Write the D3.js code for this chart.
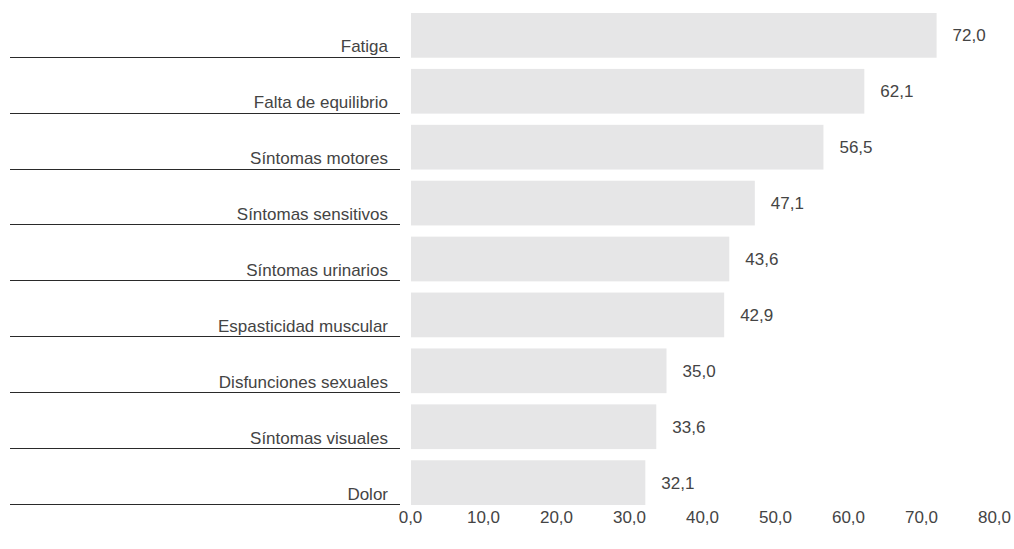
<!DOCTYPE html>
<html>
<head>
<meta charset="utf-8">
<script src="https://cdn.jsdelivr.net/npm/d3@7"></script>
<style>
  body { margin: 0; background: #fff; }
  svg text { font-family: "Liberation Sans", Arial, sans-serif; fill: #444; }
</style>
</head>
<body>
<svg class="canvas" width="1014" height="549"></svg>
<script>
var categories = ["Fatiga", "Falta de equilibrio", "Síntomas motores", "Síntomas sensitivos",
                  "Síntomas urinarios", "Espasticidad muscular", "Disfunciones sexuales",
                  "Síntomas visuales", "Dolor"];
var values = [72.0, 62.1, 56.5, 47.1, 43.6, 42.9, 35.0, 33.6, 32.1];
var ticks = [0, 10, 20, 30, 40, 50, 60, 70, 80];

var svg = d3.select('.canvas');
var fmt = function(v) { return v.toFixed(1).replace('.', ','); };

var x = d3.scaleLinear().domain([0, 80]).range([411, 995]);
var y = d3.scaleBand().domain(categories).range([7.4, 510.6]).paddingInner(0.2).paddingOuter(0.1);

var rows = svg.selectAll('.row')
    .data(categories)
    .enter()
    .append('g')
        .attr('class', 'row');

rows.append('rect')
    .attr('x', x(0))
    .attr('y', function(d) { return y(d); })
    .attr('width', function(d, i) { return x(values[i]) - x(0); })
    .attr('height', y.bandwidth())
    .style('fill', '#e6e6e7');

rows.append('line')
    .attr('x1', 10)
    .attr('x2', 400)
    .attr('y1', function(d) { return Math.round(y(d) + y.bandwidth()) - 0.5; })
    .attr('y2', function(d) { return Math.round(y(d) + y.bandwidth()) - 0.5; })
    .style('stroke', '#2a2a2a')
    .attr('stroke-width', 1.2);

rows.append('text')
    .attr('x', 388)
    .attr('y', function(d) { return y(d) + y.bandwidth() - 5.5; })
    .attr('text-anchor', 'end')
    .style('font-size', '17px')
    .text(function(d) { return d; });

rows.append('text')
    .attr('x', function(d, i) { return x(values[i]) + 16; })
    .attr('y', function(d) { return y(d) + y.bandwidth() / 2; })
    .attr('dy', '0.35em')
    .style('font-size', '17px')
    .text(function(d, i) { return fmt(values[i]); });

var axis = d3.axisBottom(x).tickValues(ticks).tickSize(0).tickPadding(0).tickFormat(fmt);
var gx = svg.append('g')
    .attr('transform', 'translate(-1,523)')
    .call(axis);
gx.select('.domain').remove();
gx.selectAll('text')
    .attr('dy', null)
    .style('font-size', '17px')
    .style('font-family', '"Liberation Sans", Arial, sans-serif')
    .attr('fill', '#444');
</script>
</body>
</html>
